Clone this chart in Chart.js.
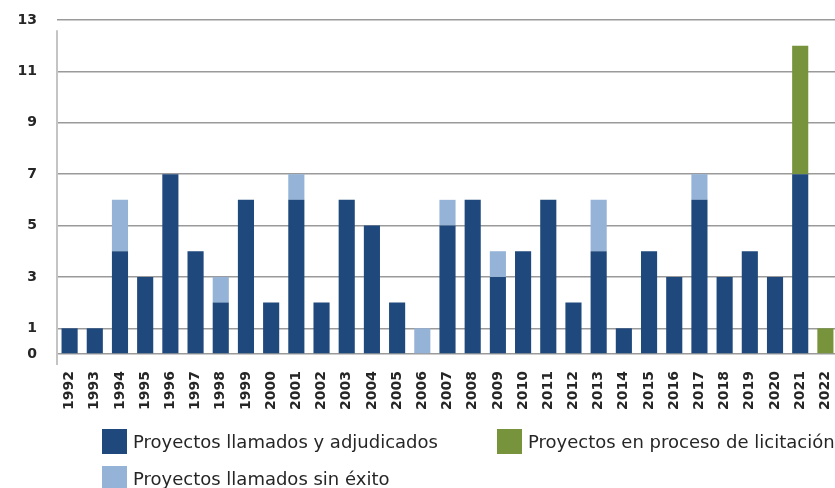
<!DOCTYPE html>
<html>
<head>
<meta charset="utf-8">
<script src="https://cdn.jsdelivr.net/npm/chart.js@4"></script>
<style>
  html, body { margin: 0; padding: 0; background: #fff; }
  body { width: 835px; height: 488px; overflow: hidden; position: relative; }
  #wrap { position: absolute; left: 0; top: 0; width: 840px; height: 488px; }
  .legend-item { position: absolute; display: flex; align-items: center;
    font-family: "DejaVu Sans", Verdana, sans-serif; font-size: 18px; color: #262626; white-space: nowrap; }
  .legend-item span.box { display: inline-block; width: 25px; height: 25px; margin-right: 6px; }
</style>
</head>
<body>
<div id="wrap"><canvas id="chart" width="840" height="488"></canvas></div>
<div class="legend-item" style="left:102px; top:429px;"><span class="box" style="background:#1F497D"></span>Proyectos llamados y adjudicados</div>
<div class="legend-item" style="left:497px; top:429px;"><span class="box" style="background:#77933C"></span>Proyectos en proceso de licitación</div>
<div class="legend-item" style="left:102px; top:466px;"><span class="box" style="background:#95B3D7"></span>Proyectos llamados sin éxito</div>
<script>
// Years on the horizontal axis
const years = ['1992','1993','1994','1995','1996','1997','1998','1999','2000','2001',
  '2002','2003','2004','2005','2006','2007','2008','2009','2010','2011',
  '2012','2013','2014','2015','2016','2017','2018','2019','2020','2021','2022'];

// Projects called and awarded
const adjudicados = [1,1,4,3,7,4,2,6,2,6,2,6,5,2,0,5,6,3,4,6,2,4,1,4,3,6,3,4,3,7,0];
// Projects called without success
const sinExito = [0,0,2,0,0,0,1,0,0,1,0,0,0,0,1,1,0,1,0,0,0,2,0,0,0,1,0,0,0,0,0];
// Projects still in tender process
const enLicitacion = [0,0,0,0,0,0,0,0,0,0,0,0,0,0,0,0,0,0,0,0,0,0,0,0,0,0,0,0,0,5,1];

// Values shown on the vertical axis
const yTicks = [0, 1, 3, 5, 7, 9, 11, 13];

const FONT = '"DejaVu Sans", Verdana, sans-serif';

// Light vertical axis line, drawn slightly past the baseline
const axisLine = {
  id: 'axisLine',
  beforeDatasetsDraw(chart) {
    const { ctx, chartArea, scales } = chart;
    ctx.save();
    ctx.strokeStyle = '#c4c4c4';
    ctx.lineWidth = 2;
    ctx.beginPath();
    ctx.moveTo(chartArea.left, scales.y.getPixelForValue(12.6));
    ctx.lineTo(chartArea.left, chartArea.bottom + 11);
    ctx.stroke();
    ctx.restore();
  }
};

new Chart(document.getElementById('chart'), {
  type: 'bar',
  data: {
    labels: years,
    datasets: [
      { label: 'Proyectos llamados y adjudicados', data: adjudicados, backgroundColor: '#1F497D' },
      { label: 'Proyectos llamados sin éxito', data: sinExito, backgroundColor: '#95B3D7' },
      { label: 'Proyectos en proceso de licitación', data: enLicitacion, backgroundColor: '#77933C' }
    ]
  },
  options: {
    responsive: false,
    animation: false,
    layout: { padding: { top: 20, right: 2, left: 0, bottom: 0 } },
    datasets: { bar: { barPercentage: 0.64, categoryPercentage: 1.0 } },
    plugins: { legend: { display: false }, tooltip: { enabled: false } },
    scales: {
      x: {
        stacked: true,
        grid: { display: false },
        border: { display: false },
        ticks: {
          autoSkip: false, minRotation: 90, maxRotation: 90, padding: 9,
          color: '#262626', font: { family: FONT, size: 14, weight: 'bold' }
        },
        afterFit(scale) { scale.height = 134; scale.paddingLeft = 0; scale.paddingRight = 0; }
      },
      y: {
        stacked: true,
        min: 0, max: 13,
        afterBuildTicks(scale) { scale.ticks = yTicks.map(v => ({ value: v })); },
        grid: { color: '#9a9a9a', lineWidth: 1.5, drawTicks: false },
        border: { display: false },
        ticks: {
          padding: 20, color: '#262626',
          font: { family: FONT, size: 14, weight: 'bold' }
        },
        afterFit(scale) { scale.width = 57; scale.paddingTop = 0; scale.paddingBottom = 0; }
      }
    }
  },
  plugins: [axisLine]
});
</script>
</body>
</html>
